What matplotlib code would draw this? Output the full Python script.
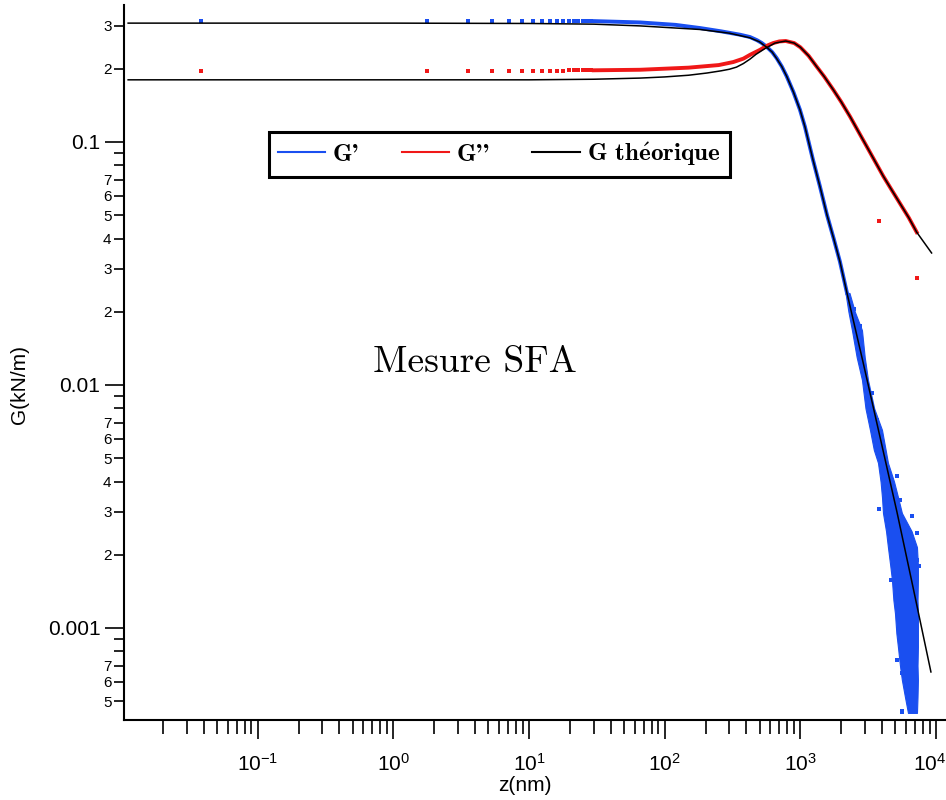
import numpy as np
import matplotlib.pyplot as plt
from matplotlib.ticker import LogLocator, FixedLocator, FuncFormatter, NullFormatter
from matplotlib.transforms import ScaledTranslation

# --- G' (blue), isolated points at small z
g1_dot_z = [0.038, 1.78, 3.56, 5.34, 7.12, 8.9, 10.7, 12.5, 14.2, 16.0, 17.8, 19.6, 21.4, 23.1, 24.9, 26.7, 28.5]
g1_dot_v = [0.315, 0.315, 0.315, 0.315, 0.315, 0.315, 0.315, 0.315, 0.315, 0.315, 0.315, 0.315, 0.314, 0.314, 0.314, 0.314, 0.314]
# G' dense part
g1_z = [30, 66, 120, 182, 260, 359, 425, 479, 520, 565, 620, 669, 730, 793, 890, 993, 1081, 1239, 1394, 1570, 1760, 1958, 2205]
g1_v = [0.314, 0.310, 0.303, 0.294, 0.285, 0.276, 0.270, 0.262, 0.255, 0.246, 0.234, 0.221, 0.204, 0.186, 0.160,
        0.1355, 0.1153, 0.0843, 0.0655, 0.0501, 0.040, 0.0321, 0.0239]
# G' noisy end: envelope of the point cloud + loose points
cloud_v = [0.0239, 0.0200, 0.0168, 0.0130, 0.0105, 0.0080, 0.00653, 0.00540, 0.00478, 0.00400, 0.00346, 0.00297,
           0.00250, 0.00215, 0.00180, 0.00158, 0.00130, 0.00115, 0.00095, 0.000836, 0.000700, 0.000611, 0.000520, 0.000447]
cloud_lo = [2150, 2260, 2400, 2600, 2843, 3020, 3258, 3480, 3733, 3900, 3994, 4064, 4280, 4420, 4600, 4729, 4850,
            4980, 5100, 5236, 5420, 5600, 5900, 6210]
cloud_hi = [2300, 2520, 2843, 2980, 3148, 3500, 3994, 4250, 4420, 4900, 5236, 5600, 6600, 7230, 7350, 7350, 7300,
            7350, 7350, 7350, 7300, 7350, 7300, 7230]
cloud_dot_z = [3811, 4710, 5420, 5580, 5580, 6140, 6430, 7000, 7200, 2750, 3970, 5130, 5420, 4660, 7200, 5130, 5580,
               7000, 6060, 2480, 3350, 3650, 4300, 7450, 6650, 4200]
cloud_dot_v = [0.00309, 0.00158, 0.00101, 0.000652, 0.000457, 0.000726, 0.00245, 0.00206, 0.00191, 0.0174,
               0.00524, 0.0042, 0.00337, 0.00158, 0.00245, 0.000738, 0.000453, 0.000538, 0.000787, 0.0205,
               0.0093, 0.0072, 0.0046, 0.00180, 0.00290, 0.0038]

# --- G'' (red)
g2_dot_z = [0.038, 1.78, 3.56, 5.34, 7.12, 8.9, 10.7, 12.5, 14.2, 16.0, 17.8, 19.6, 21.4, 23.1, 24.9, 26.7, 28.5]
g2_dot_v = [0.196, 0.196, 0.196, 0.196, 0.196, 0.196, 0.196, 0.196, 0.196, 0.196, 0.196, 0.197, 0.197, 0.197, 0.197, 0.197, 0.197]
g2_z = [30, 66, 150, 250, 320, 380, 425, 503, 570, 631, 700, 780, 900, 1000, 1150, 1318, 1500, 1746, 2000, 2324,
        2700, 3084, 3500, 4086, 4700, 5420, 6300, 7200]
g2_v = [0.197, 0.198, 0.202, 0.207, 0.213, 0.220, 0.228, 0.239, 0.249, 0.255, 0.259, 0.260, 0.255, 0.245, 0.226,
        0.204, 0.1855, 0.164, 0.146, 0.127, 0.1093, 0.0957, 0.0843, 0.0722, 0.0635, 0.0558, 0.0487, 0.0425]
g2_stray_z = [3810, 7260]
g2_stray_v = [0.0474, 0.0275]

# --- theory curves
th1_z = [0.0111, 0.1, 1, 10, 30, 66, 182, 300, 425, 500, 565, 620, 669, 730, 793, 890, 993, 1081, 1239, 1394, 1570,
         1760, 1958, 2205, 2892, 3862, 5150, 6755, 9166]
th1_v = [0.308, 0.308, 0.308, 0.307, 0.305, 0.300, 0.290, 0.280, 0.268, 0.258, 0.245, 0.234, 0.220, 0.204, 0.186,
         0.160, 0.1355, 0.1153, 0.0843, 0.0655, 0.0501, 0.040, 0.0321, 0.0239, 0.01245, 0.00611, 0.0030, 0.001476, 0.000659]
th2_z = [0.0111, 1, 10, 30, 66, 100, 150, 205, 260, 300, 338, 380, 425, 470, 548, 650, 780, 900, 1000, 1150, 1318,
         1500, 1746, 2000, 2324, 2700, 3084, 3500, 4086, 4700, 5420, 6300, 7200, 9270]
th2_v = [0.180, 0.180, 0.180, 0.181, 0.183, 0.185, 0.188, 0.192, 0.196, 0.199, 0.203, 0.210, 0.219, 0.229, 0.242,
         0.255, 0.260, 0.255, 0.245, 0.226, 0.204, 0.1855, 0.164, 0.146, 0.127, 0.1093, 0.0957, 0.0843, 0.0722,
         0.0635, 0.0558, 0.0487, 0.0425, 0.0349]

plt.rcParams['font.family'] = ['Liberation Sans', 'DejaVu Sans']
plt.rcParams['mathtext.fontset'] = 'custom'
plt.rcParams['mathtext.rm'] = 'Liberation Sans'
plt.rcParams['mathtext.it'] = 'Liberation Sans:italic'
plt.rcParams['mathtext.bf'] = 'Liberation Sans:bold'

blue = '#1a4ff0'
red = '#f01818'

fig = plt.figure(figsize=(9.46, 8), dpi=100)
ax = fig.add_axes([0.1311, 0.1, 0.8679, 0.894])

ax.plot(g1_dot_z, g1_dot_v, 's', color=blue, ms=2.3, mew=0)
ax.plot(g1_z, g1_v, '-', color=blue, lw=2.8, label="G'")
ax.plot(g2_z, g2_v, '-', color=red, lw=2.8, label="G''")
ax.plot(th1_z, th1_v, '-', color='black', lw=1.1, label=r'G th$\acute{\mathbf{e}}$orique', zorder=3)
ax.plot(th2_z, th2_v, '-', color='black', lw=1.1, zorder=3)
ax.fill_betweenx(cloud_v, cloud_lo, cloud_hi, color=blue, lw=0.8, edgecolor=blue)
ax.plot(cloud_dot_z, cloud_dot_v, 's', color=blue, ms=2.3, mew=0)
ax.plot(g2_dot_z, g2_dot_v, 's', color=red, ms=2.3, mew=0)
ax.plot(g2_stray_z, g2_stray_v, 's', color=red, ms=2.3, mew=0)

ax.set_xscale('log')
ax.set_yscale('log')
ax.set_xlim(0.01035, 11650)
ax.set_ylim(0.000418, 0.3664)

for s in ['top', 'right']:
    ax.spines[s].set_visible(False)
for s in ['left', 'bottom']:
    ax.spines[s].set_linewidth(1.5)

ax.xaxis.set_major_locator(FixedLocator([0.1, 1, 10, 100, 1000, 10000]))
ax.xaxis.set_minor_locator(LogLocator(base=10, subs=np.arange(2, 10), numticks=20))
ax.xaxis.set_major_formatter(FuncFormatter(lambda v, p: r'$10^{%d}$' % round(np.log10(v))))
ax.xaxis.set_minor_formatter(NullFormatter())


def ylab(v, pos):
    e = int(np.floor(np.log10(v) + 1e-6))
    m = int(round(v / 10 ** e))
    if m == 1:
        return '%.*f' % (max(0, -e), v)
    if m <= 7:
        return str(m)
    return ''


ax.yaxis.set_major_locator(FixedLocator([0.001, 0.01, 0.1]))
ax.yaxis.set_minor_locator(LogLocator(base=10, subs=np.arange(2, 10), numticks=20))
ax.yaxis.set_major_formatter(FuncFormatter(ylab))
ax.yaxis.set_minor_formatter(FuncFormatter(ylab))

ax.tick_params(axis='both', which='both', direction='out', width=1.2)
ax.tick_params(axis='x', which='major', length=14, labelsize=15, pad=10)
ax.tick_params(axis='x', which='minor', length=10)
ax.tick_params(axis='y', which='major', length=14, labelsize=15, pad=3)
ax.tick_params(axis='y', which='minor', length=7, labelsize=11, pad=2)

ax.set_xlabel('z(nm)', fontsize=15)
ax.xaxis.set_label_coords(0.488, -0.091)
ax.xaxis.label.set_va('center')
ax.set_ylabel('G(kN/m)', fontsize=15)
ax.yaxis.set_label_coords(-0.127, 0.469)
ax.yaxis.label.set_va('center')

ax.text(0.4275, 0.5007, 'Mesure SFA', transform=ax.transAxes, ha='center', va='center',
        family='cmr10', fontsize=27)

leg = ax.legend(loc='center', bbox_to_anchor=(0.457, 0.791), ncol=3, fancybox=False,
                prop={'family': ['cmb10', 'DejaVu Serif'], 'size': 18},
                handlelength=1.9, handletextpad=0.3, columnspacing=1.7, borderpad=0.35)
leg.get_frame().set_edgecolor('black')
leg.get_frame().set_linewidth(2.2)
leg.get_frame().set_alpha(1)
for ln in leg.get_lines():
    ln.set_linewidth(1.5)
for t in leg.get_texts():
    t.set_math_fontfamily('cm')

fig.canvas.draw()
last = ax.xaxis.get_major_ticks()[-1].label1
last.set_transform(last.get_transform() + ScaledTranslation(-0.06, 0, fig.dpi_scale_trans))

fig.savefig('out.png', dpi=100)
